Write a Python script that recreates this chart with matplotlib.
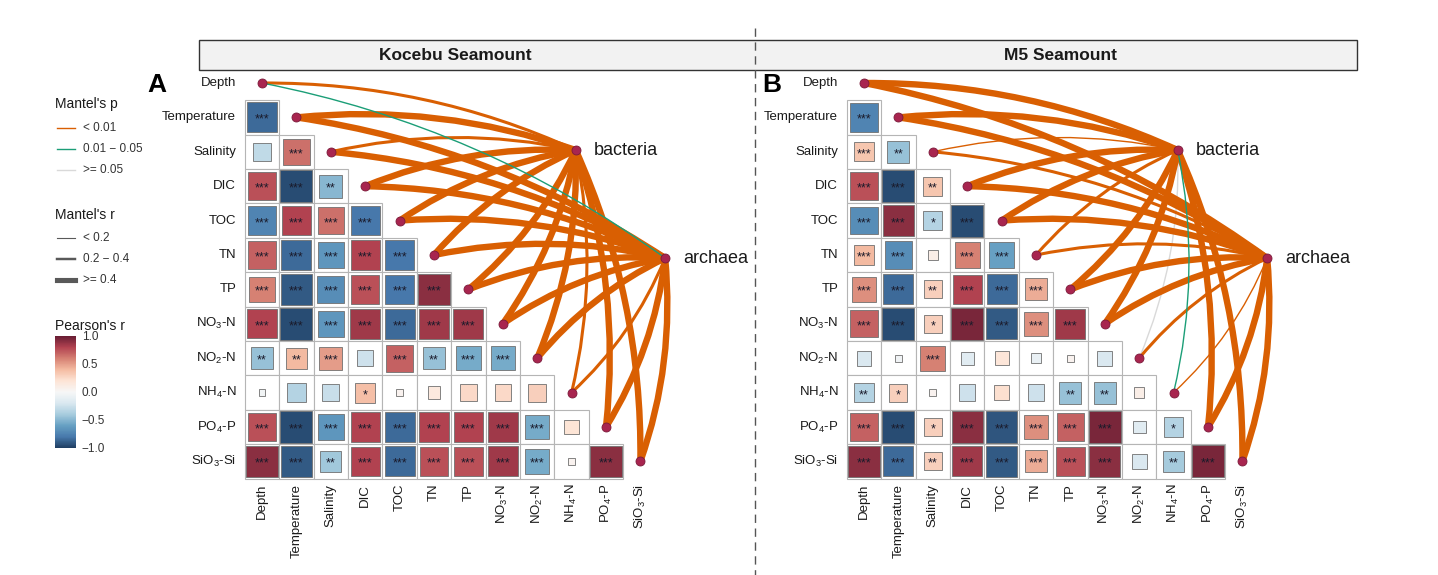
import numpy as np
import matplotlib
matplotlib.use("Agg")
import matplotlib.pyplot as plt
from matplotlib.path import Path
from matplotlib.patches import PathPatch, Rectangle
from matplotlib.lines import Line2D
import matplotlib.colors as mcolors
import matplotlib.cm as cm

plt.rcParams['font.family'] = ['Liberation Sans', 'DejaVu Sans']
plt.rcParams['mathtext.fontset'] = 'custom'
plt.rcParams['mathtext.rm'] = 'Liberation Sans'

# ---------------- data ----------------
variables = ['Depth', 'Temperature', 'Salinity', 'DIC', 'TOC', 'TN', 'TP',
             'NO$_\\mathregular{3}$-N', 'NO$_\\mathregular{2}$-N',
             'NH$_\\mathregular{4}$-N', 'PO$_\\mathregular{4}$-P',
             'SiO$_\\mathregular{3}$-Si']
panel_titles = ['Kocebu Seamount', 'M5 Seamount']
groups = ['bacteria', 'archaea']

# Pearson's r, lower triangle (row i, columns 0..i-1)
kocebu_r = [
    [],
    [-0.85],
    [-0.30, 0.65],
    [0.75, -0.95, -0.50],
    [-0.75, 0.80, 0.65, -0.80],
    [0.70, -0.85, -0.65, 0.80, -0.80],
    [0.60, -0.90, -0.70, 0.75, -0.80, 0.90],
    [0.80, -0.95, -0.65, 0.85, -0.85, 0.85, 0.85],
    [-0.45, 0.40, 0.50, -0.25, 0.70, -0.45, -0.55, -0.55],
    [-0.04, -0.35, -0.27, 0.38, 0.05, 0.15, 0.25, 0.25, 0.30],
    [0.75, -0.95, -0.65, 0.80, -0.85, 0.80, 0.80, 0.85, -0.55, 0.20],
    [0.90, -0.90, -0.42, 0.80, -0.85, 0.75, 0.75, 0.85, -0.55, 0.05, 0.90],
]
kocebu_sig = [
    [],
    ['***'],
    ['', '***'],
    ['***', '***', '**'],
    ['***', '***', '***', '***'],
    ['***', '***', '***', '***', '***'],
    ['***', '***', '***', '***', '***', '***'],
    ['***', '***', '***', '***', '***', '***', '***'],
    ['**', '**', '***', '', '***', '**', '***', '***'],
    ['', '', '', '*', '', '', '', '', ''],
    ['***', '***', '***', '***', '***', '***', '***', '***', '***', ''],
    ['***', '***', '**', '***', '***', '***', '***', '***', '***', '', '***'],
]

m5_r = [
    [],
    [-0.75],
    [0.35, -0.45],
    [0.75, -0.95, 0.35],
    [-0.70, 0.90, -0.35, -0.95],
    [0.40, -0.70, 0.10, 0.60, -0.60],
    [0.55, -0.85, 0.30, 0.80, -0.85, 0.45],
    [0.70, -0.95, 0.30, 0.95, -0.90, 0.55, 0.85],
    [-0.20, -0.05, 0.60, -0.15, 0.18, -0.10, 0.05, -0.20],
    [-0.35, 0.30, 0.05, -0.25, 0.22, -0.25, -0.45, -0.45, 0.10],
    [0.70, -0.95, 0.30, 0.90, -0.92, 0.55, 0.70, 0.95, -0.15, -0.35],
    [0.90, -0.85, 0.30, 0.85, -0.90, 0.45, 0.75, 0.90, -0.20, -0.40, 0.95],
]
m5_sig = [
    [],
    ['***'],
    ['***', '**'],
    ['***', '***', '**'],
    ['***', '***', '*', '***'],
    ['***', '***', '', '***', '***'],
    ['***', '***', '**', '***', '***', '***'],
    ['***', '***', '*', '***', '***', '***', '***'],
    ['', '', '***', '', '', '', '', ''],
    ['**', '*', '', '', '', '', '**', '**', ''],
    ['***', '***', '*', '***', '***', '***', '***', '***', '', '*'],
    ['***', '***', '**', '***', '***', '***', '***', '***', '', '**', '***'],
]

# Mantel test (r, p) for each variable, bacteria and archaea
kocebu_bac_r = [0.30, 0.55, 0.30, 0.55, 0.50, 0.55, 0.50, 0.55, 0.45, 0.30, 0.55, 0.55]
kocebu_bac_p = [0.001] * 12
kocebu_arc_r = [0.15, 0.55, 0.50, 0.55, 0.55, 0.50, 0.55, 0.55, 0.45, 0.30, 0.55, 0.50]
kocebu_arc_p = [0.03, 0.001, 0.001, 0.001, 0.001, 0.001, 0.001, 0.001, 0.001, 0.001, 0.001, 0.001]

m5_bac_r = [0.50, 0.55, 0.15, 0.55, 0.50, 0.30, 0.50, 0.55, 0.10, 0.12, 0.55, 0.55]
m5_bac_p = [0.001, 0.001, 0.001, 0.001, 0.001, 0.001, 0.001, 0.001, 0.20, 0.03, 0.001, 0.001]
m5_arc_r = [0.45, 0.50, 0.30, 0.50, 0.50, 0.30, 0.50, 0.50, 0.30, 0.15, 0.50, 0.50]
m5_arc_p = [0.001] * 12

# ---------------- layout ----------------
W, H = 1438, 575
fig = plt.figure(figsize=(W / 100, H / 100), dpi=100)
fig.patch.set_facecolor('white')

CELL = 34.4
ORIGIN_Y = 83
node_pos = {'bacteria': (9.12, 1.95), 'archaea': (11.72, 5.09)}

# RdBu, a bit muted like the print
base = plt.get_cmap('RdBu_r')(np.linspace(0, 1, 256))
hsv = mcolors.rgb_to_hsv(base[:, :3])
hsv[:, 1] *= 0.72
cmap = mcolors.ListedColormap(mcolors.hsv_to_rgb(hsv))
norm = mcolors.Normalize(-1, 1)

p_colors = ['#D95F02', '#1B9E77', '#D9D9D9']
r_widths = [1.0, 2.2, 4.6]


def fbox(l, t, w, h):
    return [l / W, 1 - (t + h) / H, w / W, h / H]


def p_bin(p):
    if p < 0.01:
        return 0
    if p < 0.05:
        return 1
    return 2


def r_bin(r):
    if r < 0.2:
        return 0
    if r < 0.4:
        return 1
    return 2


def curve(ax, p0, p1, color, lw, z):
    p0 = np.array(p0, float)
    p1 = np.array(p1, float)
    d = p1 - p0
    n = np.array([-d[1], d[0]])
    # bend away from the heatmap (towards the upper right)
    if n @ np.array([1.0, -1.0]) < 0:
        n = -n
    ctrl = (p0 + p1) / 2 + n * 0.11
    path = Path([p0, ctrl, p1], [Path.MOVETO, Path.CURVE3, Path.CURVE3])
    ax.add_patch(PathPatch(path, fc='none', ec=color, lw=lw,
                           capstyle='butt', zorder=z))


def draw_panel(ox, L, R, vals, sig, mantel):
    T, B = 58, 482
    ax = fig.add_axes(fbox(L, T, R - L, B - T))
    ax.set_xlim((L - ox) / CELL, (R - ox) / CELL)
    ax.set_ylim((B - ORIGIN_Y) / CELL, (T - ORIGIN_Y) / CELL)
    ax.axis('off')
    n = len(variables)

    for i in range(n):
        for j in range(i):
            r = vals[i][j]
            ax.add_patch(Rectangle((j - 0.5, i - 0.5), 1, 1, fc='white',
                                   ec='#b5b5b5', lw=0.8, zorder=1))
            side = np.sqrt(abs(r)) * 0.95
            ax.add_patch(Rectangle((j - side / 2, i - side / 2), side, side,
                                   fc=cmap(norm(r)), ec='#707070', lw=0.6,
                                   zorder=2))
            if sig[i][j]:
                ax.text(j, i + 0.07, sig[i][j], ha='center', va='center',
                        fontsize=9, color='#1a1a2a', zorder=3)

    for i, name in enumerate(variables):
        ax.text(-0.75, i, name, ha='right', va='center', fontsize=9.5,
                color='#1a1a1a', clip_on=False)
        ax.text(i, 11.65, name, ha='center', va='top', rotation=90,
                fontsize=9.5, color='#1a1a1a', clip_on=False)

    # mantel links: grey first, orange, then green on top
    links = []
    for g, (mr, mp) in zip(groups, mantel):
        for k in range(n):
            links.append((p_bin(mp[k]), r_bin(mr[k]), g, k))
    order = {2: 0, 0: 1, 1: 2}
    links.sort(key=lambda t: order[t[0]])
    for z, (pb, rb, g, k) in enumerate(links):
        curve(ax, node_pos[g], (k, k), p_colors[pb], r_widths[rb], 4 + z * 0.01)

    diag = np.arange(n)
    ax.scatter(diag, diag, s=42, c='#a8254f', edgecolors='#7b1a3a',
               linewidths=0.6, zorder=10)
    for g in groups:
        x, y = node_pos[g]
        ax.scatter([x], [y], s=42, c='#a8254f', edgecolors='#7b1a3a',
                   linewidths=0.6, zorder=10)
        ax.text(x + 0.52, y, g, ha='left', va='center', fontsize=13,
                color='#1a1a1a', clip_on=False)
    return ax


draw_panel(262, 244, 752, kocebu_r, kocebu_sig,
           [(kocebu_bac_r, kocebu_bac_p), (kocebu_arc_r, kocebu_arc_p)])
draw_panel(864, 846, 1362, m5_r, m5_sig,
           [(m5_bac_r, m5_bac_p), (m5_arc_r, m5_arc_p)])

# ---------------- overlay: header strip, divider, letters, legend ----------------
ov = fig.add_axes([0, 0, 1, 1])
ov.set_xlim(0, W)
ov.set_ylim(H, 0)
ov.axis('off')
ov.set_zorder(-1)

ov.add_patch(Rectangle((199, 40), 1158, 30, fc='#f2f2f2', ec='#333333', lw=1.0))
ov.text(455, 55, panel_titles[0], ha='center', va='center', fontsize=12.5,
        fontweight='bold', color='#1a1a1a')
ov.text(1060, 55, panel_titles[1], ha='center', va='center', fontsize=12.5,
        fontweight='bold', color='#1a1a1a')

top = fig.add_axes([0, 0, 1, 1])
top.set_xlim(0, W)
top.set_ylim(H, 0)
top.axis('off')
top.add_line(Line2D([755, 755], [28, 575], color='#555555', lw=1.0,
                    dashes=(6, 4)))
top.text(157, 85, 'A', ha='center', va='center', fontsize=19,
         fontweight='bold', color='black')
top.text(772, 85, 'B', ha='center', va='center', fontsize=19,
         fontweight='bold', color='black')

# legend: Mantel's p
top.text(55, 104, "Mantel's p", ha='left', va='center', fontsize=10, color='#1a1a1a')
p_labels = ['< 0.01', '0.01 \u2212 0.05', '>= 0.05']
for k, lab in enumerate(p_labels):
    y = 128 + k * 21
    top.add_line(Line2D([57, 75], [y, y], color=p_colors[k], lw=1.0))
    top.text(83, y, lab, ha='left', va='center', fontsize=8.5, color='#333333')

top.text(55, 215, "Mantel's r", ha='left', va='center', fontsize=10, color='#1a1a1a')
r_labels = ['< 0.2', '0.2 \u2212 0.4', '>= 0.4']
for k, lab in enumerate(r_labels):
    y = 238 + k * 21
    top.add_line(Line2D([57, 75], [y, y], color='#595959', lw=r_widths[k] * 0.8))
    top.text(83, y, lab, ha='left', va='center', fontsize=8.5, color='#333333')

top.text(55, 326, "Pearson's r", ha='left', va='center', fontsize=10, color='#1a1a1a')
cax = fig.add_axes(fbox(55, 336, 21, 112))
cb = fig.colorbar(cm.ScalarMappable(norm=norm, cmap=cmap), cax=cax,
                  ticks=[-1, -0.5, 0, 0.5, 1])
cb.ax.set_yticklabels(['\u22121.0', '\u22120.5', '0.0', '0.5', '1.0'])
cb.outline.set_visible(False)
cb.ax.tick_params(length=0, labelsize=8.5, labelcolor='#333333', pad=4)

fig.savefig('out.png', dpi=100)
